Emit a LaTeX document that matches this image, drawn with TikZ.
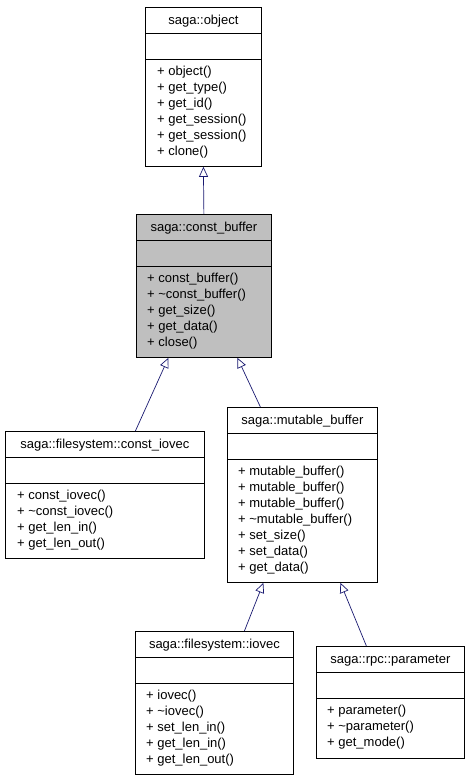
\documentclass[tikz,border=0pt]{standalone}
\usepackage{fontspec}
\setmainfont{Liberation Sans}
\usetikzlibrary{arrows.meta}
\definecolor{navyline}{HTML}{191970}
\definecolor{basegray}{HTML}{BFBFBF}

\begin{document}
\begin{tikzpicture}[x=1pt,y=-1pt,
  every node/.style={font=\fontsize{13}{16}\selectfont},
  cls/.style={draw,line width=0.8pt,anchor=north west,inner sep=0pt},
  ttl/.style={anchor=base,inner sep=0pt},
  mem/.style={anchor=base west,inner sep=0pt},
  inh/.style={draw=navyline,line width=0.7pt,-{Triangle[open,length=10pt,width=9pt]}}]
  \useasboundingbox (0,0) rectangle (468,779);
  % saga::object
  \node[cls,minimum width=116pt,minimum height=159pt] (obj) at (145,7) {};
  \draw[line width=0.8pt] (obj.north west) ++(0,26) -- ++(116,0) ++(-116,26) -- ++(116,0);
  \node[ttl] (objname) at ([yshift=-17pt]obj.north) {saga::object};
  \foreach[count=\i, evaluate=\i as \yy using {52+16*\i}]
    \m in {+ object(), + get\_type(), + get\_id(), + get\_session(), + get\_session(), + clone()}
    { \node[mem] (obj\i) at ([xshift=12pt,yshift=-\yy pt]obj.north west) {\m}; }
  % saga::const_buffer
  \node[cls,fill=basegray,minimum width=135pt,minimum height=143pt] (cbuf) at (136,214) {};
  \draw[line width=0.8pt] (cbuf.north west) ++(0,26) -- ++(135,0) ++(-135,26) -- ++(135,0);
  \node[ttl] (cbufname) at ([yshift=-17pt]cbuf.north) {saga::const\_buffer};
  \foreach[count=\i, evaluate=\i as \yy using {52+16*\i}]
    \m in {+ const\_buffer(), + \textasciitilde const\_buffer(), + get\_size(), + get\_data(), + close()}
    { \node[mem] (cbuf\i) at ([xshift=11pt,yshift=-\yy pt]cbuf.north west) {\m}; }
  % saga::filesystem::const_iovec
  \node[cls,minimum width=199pt,minimum height=127pt] (civ) at (5,431) {};
  \draw[line width=0.8pt] (civ.north west) ++(0,26) -- ++(199,0) ++(-199,26) -- ++(199,0);
  \node[ttl] (civname) at ([yshift=-17pt]civ.north) {saga::filesystem::const\_iovec};
  \foreach[count=\i, evaluate=\i as \yy using {52+16*\i}]
    \m in {+ const\_iovec(), + \textasciitilde const\_iovec(), + get\_len\_in(), + get\_len\_out()}
    { \node[mem] (civ\i) at ([xshift=12pt,yshift=-\yy pt]civ.north west) {\m}; }
  % saga::mutable_buffer
  \node[cls,minimum width=150pt,minimum height=175pt] (mbuf) at (227,407) {};
  \draw[line width=0.8pt] (mbuf.north west) ++(0,26) -- ++(150,0) ++(-150,26) -- ++(150,0);
  \node[ttl] (mbufname) at ([yshift=-17pt]mbuf.north) {saga::mutable\_buffer};
  \foreach[count=\i, evaluate=\i as \yy using {52+16*\i}]
    \m in {+ mutable\_buffer(), + mutable\_buffer(), + mutable\_buffer(), + \textasciitilde mutable\_buffer(),
           + set\_size(), + set\_data(), + get\_data()}
    { \node[mem] (mbuf\i) at ([xshift=11pt,yshift=-\yy pt]mbuf.north west) {\m}; }
  % saga::filesystem::iovec
  \node[cls,minimum width=158pt,minimum height=143pt] (iov) at (135,631) {};
  \draw[line width=0.8pt] (iov.north west) ++(0,26) -- ++(158,0) ++(-158,26) -- ++(158,0);
  \node[ttl] (iovname) at ([yshift=-17pt]iov.north) {saga::filesystem::iovec};
  \foreach[count=\i, evaluate=\i as \yy using {52+16*\i}]
    \m in {+ iovec(), + \textasciitilde iovec(), + set\_len\_in(), + get\_len\_in(), + get\_len\_out()}
    { \node[mem] (iov\i) at ([xshift=11pt,yshift=-\yy pt]iov.north west) {\m}; }
  % saga::rpc::parameter
  \node[cls,minimum width=148pt,minimum height=112pt] (par) at (316,646) {};
  \draw[line width=0.8pt] (par.north west) ++(0,26) -- ++(148,0) ++(-148,26) -- ++(148,0);
  \node[ttl] (parname) at ([yshift=-17pt]par.north) {saga::rpc::parameter};
  \foreach[count=\i, evaluate=\i as \yy using {52+16*\i}]
    \m in {+ parameter(), + \textasciitilde parameter(), + get\_mode()}
    { \node[mem] (par\i) at ([xshift=11pt,yshift=-\yy pt]par.north west) {\m}; }
  % inheritance
  \draw[inh] (cbuf.north) -- (obj.south);
  \draw[inh] ([xshift=30.5pt]civ.north) -- ([xshift=-35.5pt]cbuf.south);
  \draw[inh] ([xshift=-42pt]mbuf.north) -- ([xshift=33.5pt]cbuf.south);
  \draw[inh] ([xshift=30pt]iov.north) -- ([xshift=-39pt]mbuf.south);
  \draw[inh] ([xshift=-24pt]par.north) -- ([xshift=38pt]mbuf.south);
\end{tikzpicture}
\end{document}
